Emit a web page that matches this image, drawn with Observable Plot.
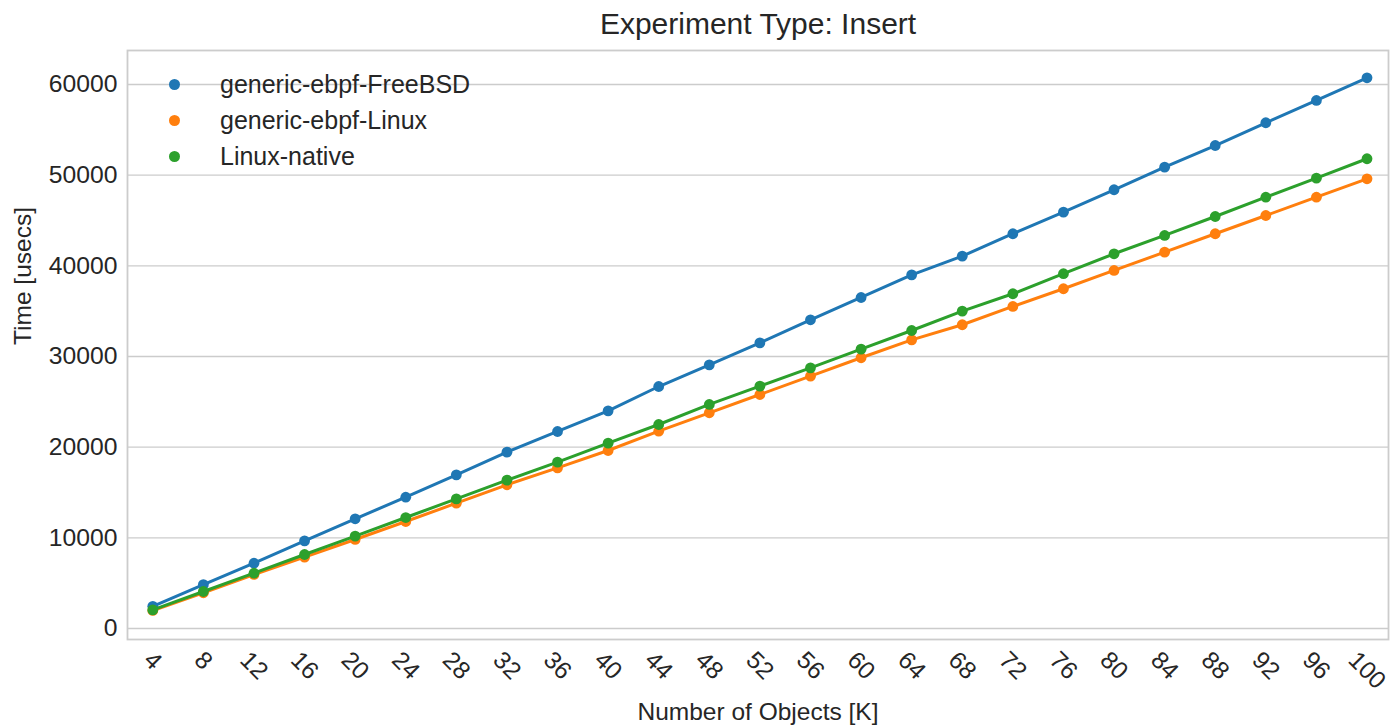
<!DOCTYPE html>
<html><head><meta charset="utf-8">
<script src="https://cdn.jsdelivr.net/npm/d3@7"></script>
<script src="https://cdn.jsdelivr.net/npm/@observablehq/plot@0.6"></script>
<style>
body{margin:0;background:#fff;}
#wrap{position:relative;width:1391px;height:726px;font-family:"Liberation Sans",Arial,sans-serif;color:#262626;}
#legend{position:absolute;left:165px;top:66px;font-size:25px;}
.item{display:flex;align-items:center;height:36px;}
.sw{width:11px;height:11px;border-radius:50%;margin-left:4px;margin-right:40px;}
</style></head><body><div id="wrap"><div id="legend"></div></div>
<script>
const objects = [4,8,12,16,20,24,28,32,36,40,44,48,52,56,60,64,68,72,76,80,84,88,92,96,100];
const freebsd = [2450,4850,7200,9670,12100,14480,16950,19450,21730,24010,26690,29080,31510,34050,36510,39010,41070,43540,45920,48390,50880,53270,55780,58240,60740];
const ebpfLinux = [1990,3940,5960,7870,9820,11800,13820,15850,17720,19630,21760,23790,25810,27830,29860,31840,33500,35520,37470,39490,41510,43540,45550,47570,49600];
const linuxNative = [2050,4080,6100,8160,10190,12240,14300,16360,18350,20440,22500,24710,26730,28750,30810,32870,35000,36920,39130,41330,43350,45440,47570,49670,51810];
const seriesNames = ["generic-ebpf-FreeBSD","generic-ebpf-Linux","Linux-native"];
const seriesColors = ["#1f77b4","#ff7f0e","#2ca02c"];
const yTicks = [0,10000,20000,30000,40000,50000,60000];

const allSeries = [freebsd, ebpfLinux, linuxNative];
const rows = [];
allSeries.forEach((vals, s) => vals.forEach((v, i) => rows.push({series: seriesNames[s], x: objects[i], y: v})));

const textColor = "#262626";
const font = "Liberation Sans, Arial, sans-serif";

const seriesMarks = [];
seriesNames.forEach((name, s) => {
  const d = rows.filter(r => r.series === name);
  seriesMarks.push(Plot.line(d, {x: "x", y: "y", stroke: seriesColors[s], strokeWidth: 3}));
  seriesMarks.push(Plot.dot(d, {x: "x", y: "y", fill: seriesColors[s], r: 5.4}));
});

const tickMarks = [1,2,3].map(nd => {
  const d = objects.filter(v => String(v).length === nd);
  const dy = 10 + (nd * 13.8 + 18) / 2.83;
  return Plot.text(d, {x: d => d, text: d => String(d), frameAnchor: "bottom", rotate: 45, dy, fontSize: 24.5, fill: textColor, textAnchor: "middle", lineAnchor: "middle"});
});

const chart = Plot.plot({
  width: 1391,
  height: 726,
  marginTop: 50,
  marginBottom: 87,
  marginLeft: 127,
  marginRight: 3,
  style: {fontFamily: font, background: "#fff", overflow: "visible"},
  x: {type: "linear", domain: [2, 101.7], axis: null},
  y: {domain: [-1213, 63750], axis: null},
  marks: [
    Plot.ruleY(yTicks, {stroke: "#cccccc", strokeWidth: 1.4}),
    Plot.frame({stroke: "#cccccc", strokeWidth: 1.8}),
    ...seriesMarks,
    Plot.text(yTicks, {y: d => d, text: d => String(d), frameAnchor: "left", textAnchor: "end", lineAnchor: "middle", dx: -10, fontSize: 24.7, fill: textColor}),
    ...tickMarks,
    Plot.text(["Experiment Type: Insert"], {text: d => d, frameAnchor: "top", lineAnchor: "middle", dy: -26, fontSize: 30, fill: textColor}),
    Plot.text(["Time [usecs]"], {text: d => d, frameAnchor: "left", lineAnchor: "middle", dx: -104, rotate: -90, fontSize: 24.5, fill: textColor}),
    Plot.text(["Number of Objects [K]"], {text: d => d, frameAnchor: "bottom", lineAnchor: "middle", dy: 73, fontSize: 24.5, fill: textColor})
  ]
});
const wrap = document.getElementById("wrap");
wrap.insertBefore(chart, wrap.firstChild);

const legend = document.getElementById("legend");
seriesNames.forEach((name, s) => {
  const it = document.createElement("div");
  it.className = "item";
  const sw = document.createElement("span");
  sw.className = "sw";
  sw.style.background = seriesColors[s];
  const t = document.createElement("span");
  t.textContent = name;
  it.appendChild(sw); it.appendChild(t);
  legend.appendChild(it);
});
</script></body></html>
